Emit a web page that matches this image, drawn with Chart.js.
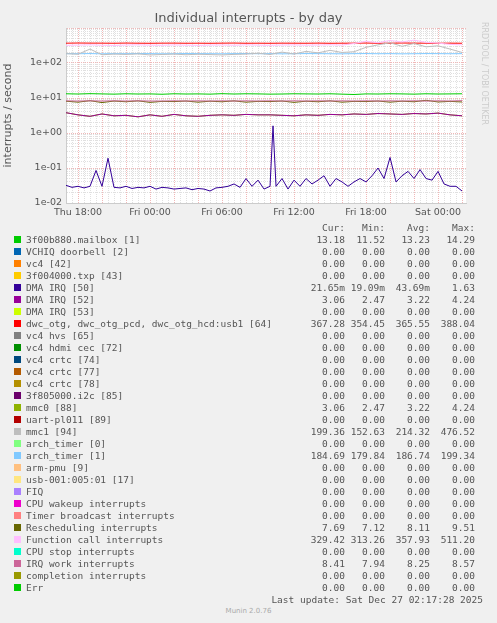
<!DOCTYPE html>
<html><head><meta charset="utf-8">
<script src="https://cdn.jsdelivr.net/npm/chart.js@4"></script>
<style>
body{margin:0;background:#f0f0f0;width:497px;height:623px;overflow:hidden;font-family:"DejaVu Sans Mono",monospace;font-size:9.5px;color:#555;position:relative}
#wrap{position:absolute;left:0;top:0;width:497px;height:225px}
.t{position:absolute;white-space:pre}
.sw{position:absolute;width:7px;height:7px}
</style></head><body>
<div id="wrap"><canvas id="c" width="497" height="225" style="width:497px;height:225px"></canvas></div>
<div class="t" style="left:0;width:497px;top:10px;text-align:center;font-family:'DejaVu Sans';font-size:13px;color:#555">Individual interrupts - by day</div>
<div class="t" style="left:480px;top:22px;writing-mode:vertical-rl;font-family:'DejaVu Sans';font-size:8px;color:#ccc">RRDTOOL / TOBI OETIKER</div>
<div id="legend"></div>
<script>
// hours since Thu 17:00
const hours = [];
for (let h = 0; h <= 33; h++) hours.push(h);

const dmaT = [0,0.5,1,1.5,2,2.5,3,3.5,4,4.5,5,5.5,6,6.5,7,7.5,8,8.5,9,9.5,10,10.5,11,11.5,12,12.5,13,13.5,14,14.5,15,15.5,16,16.5,17,17.25,17.5,18,18.5,19,19.5,20,20.5,21,21.5,22,22.5,23,23.5,24,24.5,25,25.5,26,26.5,27,27.5,28,28.5,29,29.5,30,30.5,31,31.5,32,32.5,33];
const dmaV = [0.032,0.028,0.03,0.027,0.03,0.085,0.03,0.19,0.028,0.027,0.03,0.026,0.028,0.027,0.03,0.025,0.028,0.027,0.025,0.026,0.027,0.024,0.026,0.025,0.022,0.027,0.028,0.03,0.035,0.028,0.05,0.03,0.045,0.025,0.03,1.6,0.03,0.05,0.025,0.045,0.03,0.05,0.035,0.045,0.06,0.03,0.05,0.04,0.03,0.04,0.05,0.04,0.06,0.1,0.05,0.2,0.04,0.06,0.08,0.05,0.09,0.05,0.045,0.08,0.035,0.03,0.03,0.022];

const dwc = [368,372,370,369,367,371,368,366,369,370,367,368,366,369,371,367,368,366,369,368,367,370,366,368,369,371,367,368,372,370,368,367,369,367];
const funcCall = [320,325,330,322,318,326,330,324,321,328,323,319,325,327,322,330,324,321,326,329,323,327,331,325,360,420,380,440,400,450,390,370,340,330];
const mmc1 = [185,178,250,172,180,176,182,170,175,180,172,178,174,170,176,180,190,175,205,180,215,195,230,200,210,280,330,380,300,360,290,310,250,200];
const archT1 = [185,184,186,183,185,184,186,185,183,184,186,185,184,183,185,186,184,185,183,184,186,185,184,183,185,186,184,185,183,184,186,185,184,185];
const mailbox = [13.2,13.0,13.3,13.1,12.9,13.2,13.0,13.1,12.8,13.2,13.0,13.1,12.9,13.3,13.0,13.2,13.1,12.9,13.0,13.2,13.1,13.0,13.2,12.9,12.6,13.1,13.0,13.2,13.1,12.9,13.2,13.0,13.1,13.2];
const irqWork = [8.3,8.2,8.3,8.2,8.3,8.2,8.3,8.2,8.2,8.3,8.2,8.3,8.2,8.3,8.2,8.3,8.2,8.3,8.2,8.3,8.2,8.3,8.2,8.3,8.2,8.3,8.2,8.3,8.2,8.3,8.2,8.3,8.2,8.4];
const resched = [8.1,7.6,8.4,7.4,8.2,7.8,8.3,7.5,8.0,7.9,8.2,7.6,8.1,7.8,8.3,7.6,8.0,7.9,8.2,7.5,8.1,7.8,8.3,7.6,8.0,7.9,8.2,7.6,8.1,7.8,8.6,7.7,8.0,7.7];
const mmc0 = [3.8,3.3,3.0,3.5,3.1,3.2,2.9,3.3,3.0,3.4,3.1,3.0,3.2,3.3,3.2,3.4,3.3,3.3,3.2,3.1,3.3,3.2,3.4,3.3,3.5,3.4,3.6,3.5,3.4,3.6,3.5,3.7,3.3,3.1];

const xTickHours = [1,7,13,19,25,31];
const xTickLabels = ['Thu 18:00','Fri 00:00','Fri 06:00','Fri 12:00','Fri 18:00','Sat 00:00'];

const legendNames = ['3f00b880.mailbox [1]','VCHIQ doorbell [2]','vc4 [42]','3f004000.txp [43]','DMA IRQ [50]','DMA IRQ [52]','DMA IRQ [53]','dwc_otg, dwc_otg_pcd, dwc_otg_hcd:usb1 [64]','vc4 hvs [65]','vc4 hdmi cec [72]','vc4 crtc [74]','vc4 crtc [77]','vc4 crtc [78]','3f805000.i2c [85]','mmc0 [88]','uart-pl011 [89]','mmc1 [94]','arch_timer [0]','arch_timer [1]','arm-pmu [9]','usb-001:005:01 [17]','FIQ','CPU wakeup interrupts','Timer broadcast interrupts','Rescheduling interrupts','Function call interrupts','CPU stop interrupts','IRQ work interrupts','completion interrupts','Err'];
const legendColors = ['#00CC00','#0066B3','#FF8000','#FFCC00','#330099','#990099','#CCFF00','#FF0000','#808080','#008F00','#00487D','#B35A00','#B38F00','#6B006B','#8FB300','#B30000','#BEBEBE','#80FF80','#80C9FF','#FFC080','#FFE680','#AA80FF','#EE00CC','#FF8080','#666600','#FFBFFF','#00FFCC','#CC6699','#999900','#00CC00'];
const legendCur = ['13.18','0.00','0.00','0.00','21.65m','3.06','0.00','367.28','0.00','0.00','0.00','0.00','0.00','0.00','3.06','0.00','199.36','0.00','184.69','0.00','0.00','0.00','0.00','0.00','7.69','329.42','0.00','8.41','0.00','0.00'];
const legendMin = ['11.52','0.00','0.00','0.00','19.09m','2.47','0.00','354.45','0.00','0.00','0.00','0.00','0.00','0.00','2.47','0.00','152.63','0.00','179.84','0.00','0.00','0.00','0.00','0.00','7.12','313.26','0.00','7.94','0.00','0.00'];
const legendAvg = ['13.23','0.00','0.00','0.00','43.69m','3.22','0.00','365.55','0.00','0.00','0.00','0.00','0.00','0.00','3.22','0.00','214.32','0.00','186.74','0.00','0.00','0.00','0.00','0.00','8.11','357.93','0.00','8.25','0.00','0.00'];
const legendMax = ['14.29','0.00','0.00','0.00','1.63','4.24','0.00','388.04','0.00','0.00','0.00','0.00','0.00','0.00','4.24','0.00','476.52','0.00','199.34','0.00','0.00','0.00','0.00','0.00','9.51','511.20','0.00','8.57','0.00','0.00'];

function pts(xs, ys) { return ys.map((v, i) => ({x: xs[i], y: v})); }
function ds(data, color) { return {data, borderColor: color, borderWidth: 1, pointRadius: 0, tension: 0, fill: false}; }

new Chart(document.getElementById('c'), {
  type: 'line',
  data: {datasets: [
    ds(pts(hours, mmc1), '#BEBEBE'),
    ds(pts(hours, archT1), '#80C9FF'),
    ds(pts(hours, funcCall), '#FFBFFF'),
    ds(pts(hours, dwc), '#FF0000'),
    ds(pts(hours, mailbox), '#00CC00'),
    ds(pts(hours, irqWork), '#CC6699'),
    ds(pts(hours, resched), '#666600'),
    ds(pts(hours, mmc0), '#990099'),
    ds(pts(hours, mmc0), '#8FB300'),
    ds(pts(dmaT, dmaV), '#330099')
  ]},
  options: {
    responsive: false, animation: false, devicePixelRatio: 1,
    layout: {padding: {top: 28, right: 31, left: 0, bottom: 0}},
    plugins: {legend: {display: false}, tooltip: {enabled: false}},
    scales: {
      x: {
        type: 'linear', min: 0, max: 33.33,
        afterBuildTicks: s => { const t = []; for (let h = 0; h <= 33; h += 0.5) t.push({value: h}); s.ticks = t; },
        afterFit: s => { s.height = 22; s.paddingRight = 0; },
        grid: {color: c => ((c.tick.value - 1) % 2 === 0 ? '#f0b8b8' : '#e0e0e0'), drawTicks: false},
        border: {color: '#ccc', dash: [1, 1]},
        ticks: {autoSkip: false, maxRotation: 0, padding: 4, color: '#555', font: {family: 'DejaVu Sans', size: 9.5},
          callback: v => { const i = xTickHours.indexOf(v); return i >= 0 ? xTickLabels[i] : ''; }}
      },
      y: {
        type: 'logarithmic', min: 0.01, max: 1000,
        afterFit: s => { s.width = 66; },
        grid: {color: c => { const l = Math.log10(c.tick.value); return Math.abs(l - Math.round(l)) < 1e-6 ? '#f0b8b8' : '#e0e0e0'; }, drawTicks: false},
        border: {color: '#ccc', dash: [1, 1]},
        title: {display: true, text: 'interrupts / second', color: '#555', font: {family: 'DejaVu Sans', size: 11}, padding: 2},
        ticks: {autoSkip: false, padding: 4, color: '#555', font: {family: 'DejaVu Sans', size: 9.5},
          callback: v => { const l = Math.log10(v); if (Math.abs(l - Math.round(l)) > 1e-6 || l > 2.5) return ''; return v.toExponential(0).replace('e+', 'e+0').replace('e-', 'e-0'); }}
      }
    }
  },
  plugins: [{id: 'bg', beforeDraw: ch => { const a = ch.chartArea, g = ch.ctx; g.save(); g.fillStyle = '#fff'; g.fillRect(a.left, a.top, a.right - a.left, a.bottom - a.top); g.restore(); }}]
});

// legend
const lg = document.getElementById('legend');
let html = '';
const hdr = [['Cur:', 345], ['Min:', 385], ['Avg:', 430], ['Max:', 475]];
hdr.forEach(h => { html += `<div class="t" style="top:222px;right:${497 - h[1]}px">${h[0]}</div>`; });
legendNames.forEach((n, i) => {
  const y = 234 + i * 12;
  html += `<div class="sw" style="left:14px;top:${y + 2}px;background:${legendColors[i]}"></div>`;
  html += `<div class="t" style="left:26px;top:${y}px">${n}</div>`;
  [legendCur, legendMin, legendAvg, legendMax].forEach((arr, k) => {
    html += `<div class="t" style="top:${y}px;right:${497 - hdr[k][1]}px">${arr[i]}</div>`;
  });
});
html += `<div class="t" style="top:594px;right:14px">Last update: Sat Dec 27 02:17:28 2025</div>`;
html += `<div class="t" style="top:607px;left:0;width:497px;text-align:center;font-family:'DejaVu Sans';font-size:7px;color:#aaa">Munin 2.0.76</div>`;
lg.innerHTML = html;
</script>
</body></html>
